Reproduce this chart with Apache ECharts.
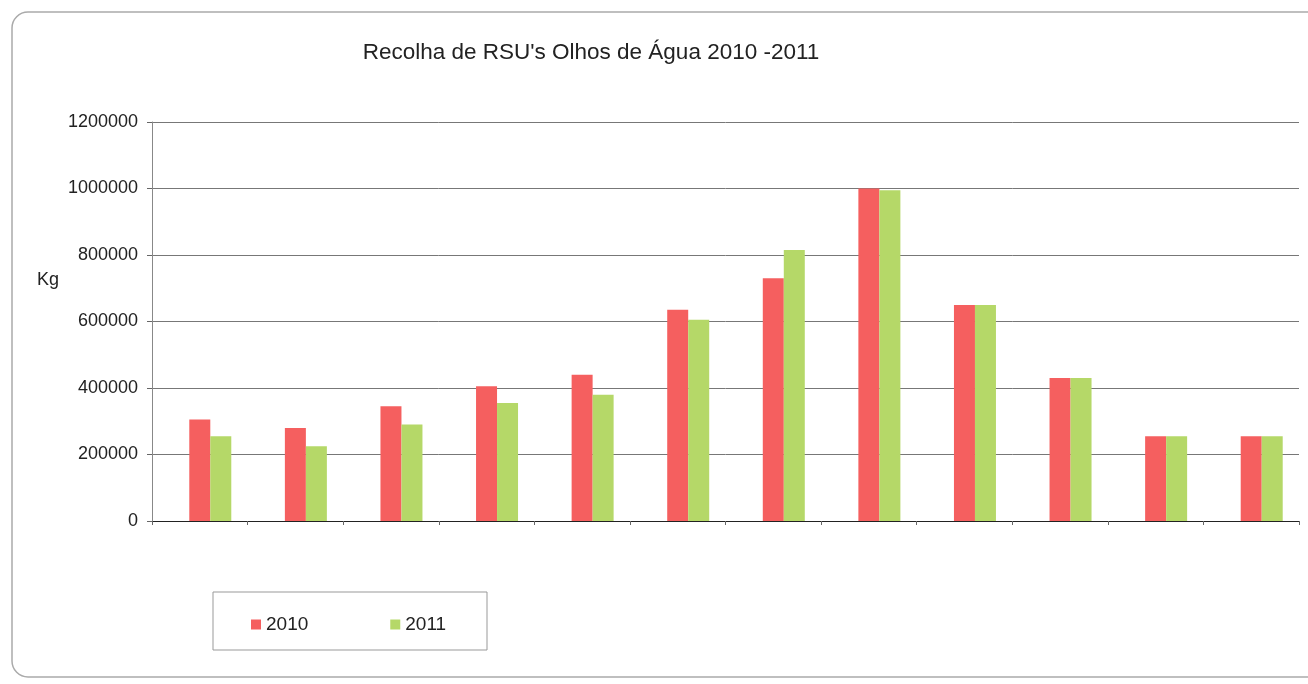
<!DOCTYPE html>
<html>
<head>
<meta charset="utf-8">
<script src="https://cdn.jsdelivr.net/npm/echarts@6/dist/echarts.min.js"></script>
<style>
html,body{margin:0;padding:0;background:#fff;}
#c{width:1308px;height:684px;}
</style>
</head>
<body>
<div id="c"></div>
<script>
const months = ['1','2','3','4','5','6','7','8','9','10','11','12'];
const values2010 = [305000, 280000, 345000, 405000, 440000, 635000, 730000, 1000000, 650000, 430000, 255000, 255000];
const values2011 = [255000, 225000, 290000, 355000, 380000, 605000, 815000, 995000, 650000, 430000, 255000, 255000];
const yTicks = [0, 200000, 400000, 600000, 800000, 1000000, 1200000];
const titleText = "Recolha de RSU's Olhos de Água 2010 -2011";
const yName = 'Kg';

const chart = echarts.init(document.getElementById('c'), null, {renderer: 'canvas'});
const font = "'Liberation Sans', Arial, sans-serif";
chart.setOption({
  animation: false,
  backgroundColor: '#fff',
  title: {
    text: titleText,
    left: 586, top: 36, textAlign: 'center',
    textStyle: {fontFamily: font, fontSize: 22.5, fontWeight: 'normal', color: '#222'}
  },
  graphic: [
    {type: 'rect', shape: {x: 12, y: 12, width: 1320, height: 665, r: 16},
     style: {fill: 'none', stroke: '#aaa', lineWidth: 1.5}, z: -1},
    {type: 'rect', shape: {x: 213, y: 592, width: 274, height: 58},
     style: {fill: 'none', stroke: '#999', lineWidth: 1}},
    {type: 'text', left: 37, top: 271,
     style: {text: yName, fontFamily: font, fontSize: 18, fill: '#222'}}
  ],
  legend: {
    data: ['2010', '2011'],
    left: 246, top: 610,
    itemWidth: 10, itemHeight: 10, itemGap: 82,
    icon: 'rect',
    textStyle: {fontFamily: font, fontSize: 19, color: '#222'}
  },
  grid: {left: 152, top: 122, right: 9, bottom: 163},
  xAxis: {
    type: 'category',
    data: months,
    axisLine: {lineStyle: {color: '#222', width: 1}},
    axisTick: {show: true, length: 4, lineStyle: {color: '#666'}},
    axisLabel: {show: false}
  },
  yAxis: {
    type: 'value',
    min: yTicks[0], max: yTicks[yTicks.length - 1], interval: 200000,
    axisLine: {show: true, lineStyle: {color: '#888'}},
    axisTick: {show: true, length: 5, lineStyle: {color: '#666'}},
    axisLabel: {margin: 14, fontFamily: font, fontSize: 18, color: '#222',
      formatter: v => String(v)},
    splitLine: {lineStyle: {color: '#777', width: 1}}
  },
  series: [
    {name: 'spacer', type: 'bar', barWidth: 21, barGap: '0%', data: months.map(() => null), silent: true, itemStyle: {color: 'transparent'}},
    {name: '2010', type: 'bar', barWidth: 21, barGap: '0%', data: values2010, itemStyle: {color: '#f55f5f'}},
    {name: '2011', type: 'bar', barWidth: 21, barGap: '0%', data: values2011, itemStyle: {color: '#b5d868'}}
  ]
});
</script>
</body>
</html>
